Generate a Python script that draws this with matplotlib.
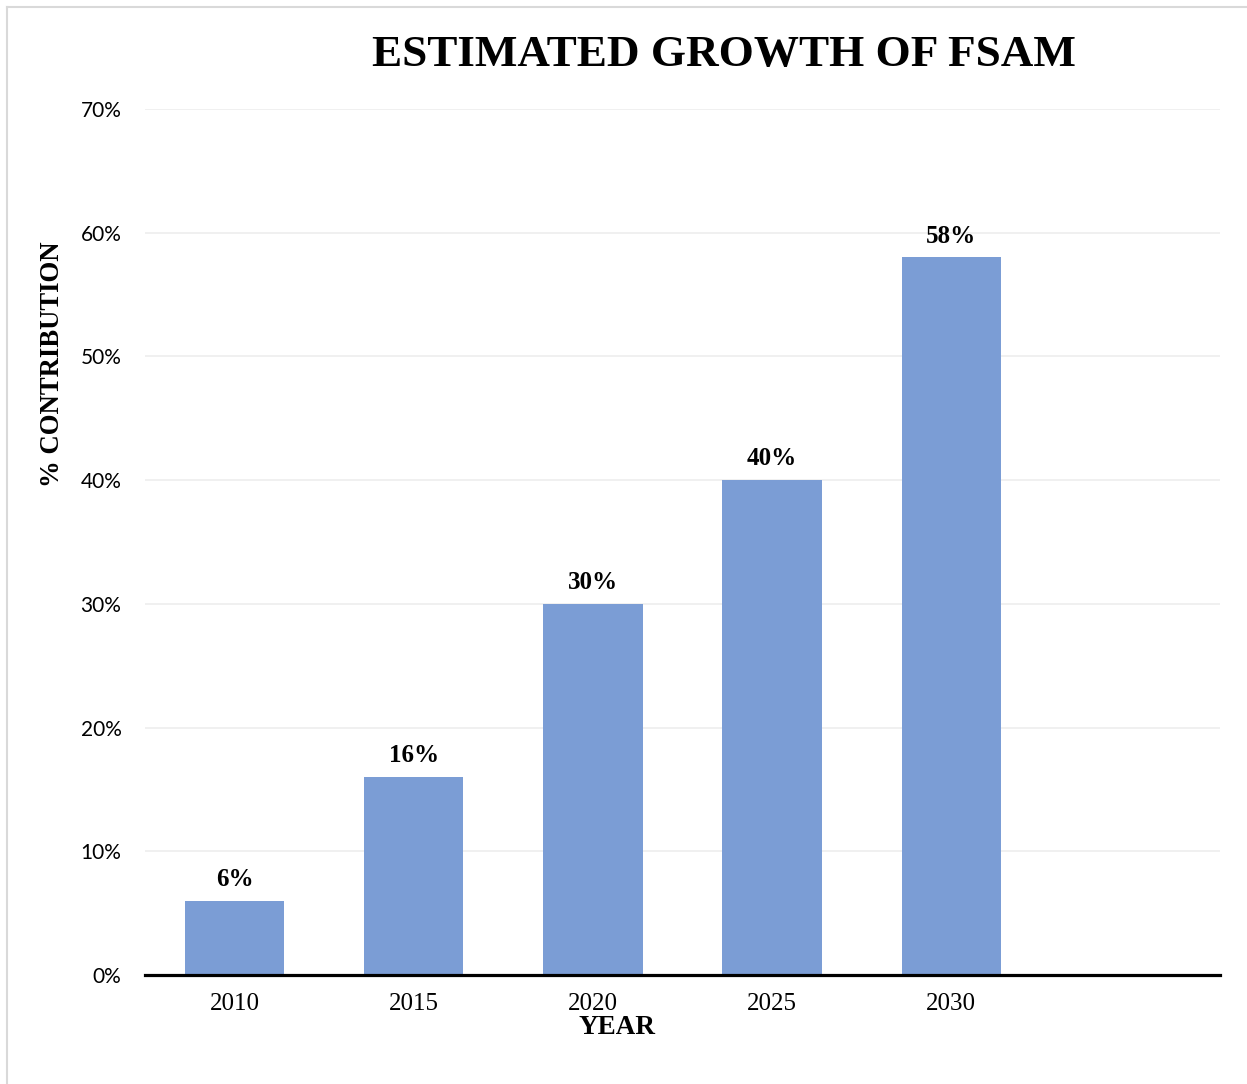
import matplotlib
matplotlib.use("Agg")
import matplotlib.pyplot as plt
from matplotlib.lines import Line2D

years = ["2010", "2015", "2020", "2025", "2030", ""]
values = [0.06, 0.16, 0.30, 0.40, 0.58, None]
value_labels = ["6%", "16%", "30%", "40%", "58%"]
yticks = [0.0, 0.1, 0.2, 0.3, 0.4, 0.5, 0.6, 0.7]
ytick_labels = ["0%", "10%", "20%", "30%", "40%", "50%", "60%", "70%"]

W, H = 1247, 1084
fig = plt.figure(figsize=(W / 100, H / 100), dpi=100)
fig.patch.set_facecolor("white")

ax = fig.add_axes([145 / W, 1 - 975 / H, 1075 / W, 866 / H])

x = list(range(len(years)))
bar_x = [i for i, v in zip(x, values) if v is not None]
bar_v = [v for v in values if v is not None]
bars = ax.bar(bar_x, bar_v, width=0.555, color="#7B9DD5", zorder=3)

for xi, v, lab in zip(bar_x, bar_v, value_labels):
    ax.annotate(lab, (xi, v), xytext=(0, 7), textcoords="offset points",
                ha="center", va="bottom", fontsize=18, fontweight="bold",
                family="Liberation Serif")

ax.set_xlim(-0.5, len(years) - 0.5)
ax.set_ylim(0, 0.7)
ax.set_yticks(yticks)
ax.set_yticklabels(ytick_labels, family="Lato", fontsize=15)
ax.set_xticks(x)
ax.set_xticklabels(years, family="Liberation Serif", fontsize=18)
ax.tick_params(axis="both", length=0)
ax.tick_params(axis="y", pad=17)
ax.tick_params(axis="x", pad=13)

ax.grid(axis="y", color="#F0F0F0", linewidth=1.4, zorder=0)
for s in ["top", "right", "left"]:
    ax.spines[s].set_visible(False)
ax.spines["bottom"].set_linewidth(2.3)
ax.spines["bottom"].set_color("black")
ax.spines["bottom"].set_zorder(4)

fig.text(724 / W, 1 - 55 / H, "ESTIMATED GROWTH OF FSAM", ha="center", va="center",
         fontsize=32.5, fontweight="bold", family="Liberation Serif")
fig.text(53 / W, 1 - 364 / H, "% CONTRIBUTION", ha="center", va="center", rotation=90,
         fontsize=19.3, fontweight="bold", family="Liberation Serif")
fig.text(617 / W, 1 - 1028 / H, "YEAR", ha="center", va="center",
         fontsize=19.5, fontweight="bold", family="Liberation Serif")

# figure border (left and top)
fig.add_artist(Line2D([7 / W, 7 / W], [0, 1 - 7 / H], transform=fig.transFigure,
                      color="#D9D9D9", linewidth=1.5))
fig.add_artist(Line2D([7 / W, 1], [1 - 7 / H, 1 - 7 / H], transform=fig.transFigure,
                      color="#D9D9D9", linewidth=1.5))

fig.savefig("out.png", dpi=100, facecolor="white")
